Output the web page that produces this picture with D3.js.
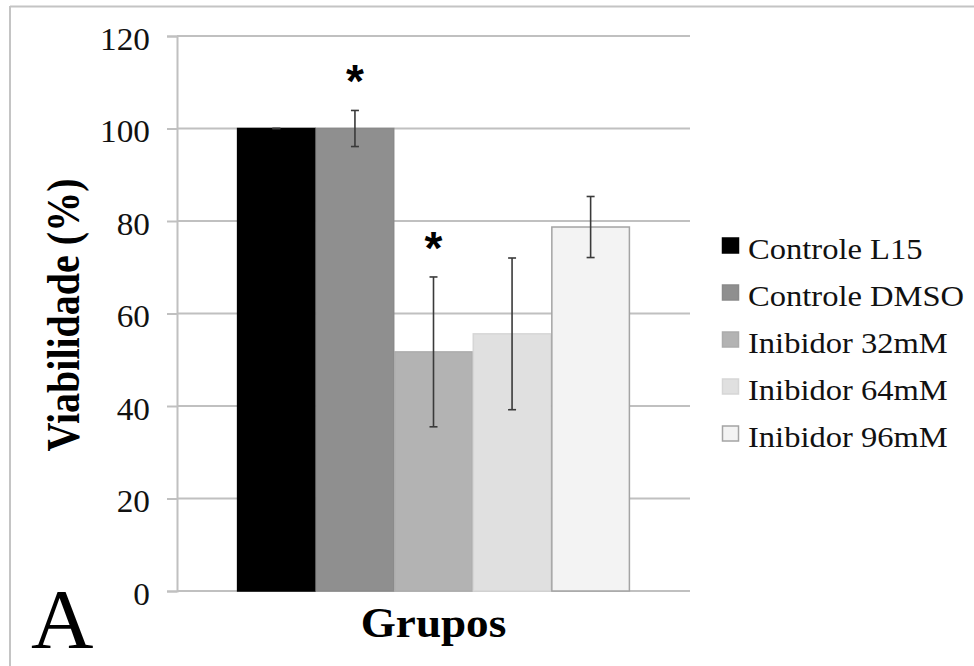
<!DOCTYPE html>
<html>
<head>
<meta charset="utf-8">
<script src="https://cdn.jsdelivr.net/npm/d3@7"></script>
<style>
  body { margin: 0; background: #fff; }
  svg { display: block; }
  text { font-family: "Liberation Serif", "Times New Roman", serif; }
</style>
</head>
<body>
<svg></svg>
<script>
// data
const groups = ['Controle L15', 'Controle DMSO', 'Inibidor 32mM', 'Inibidor 64mM', 'Inibidor 96mM'];
const values = [100, 100, 51.7, 55.6, 78.7];
const errors = [0, 3.9, 16.2, 16.4, 6.6];
const signif = [false, true, true, false, false];
const yTicks = [0, 20, 40, 60, 80, 100, 120];

const colors = ['#000000', '#8f8f8f', '#b3b3b3', '#e0e0e0', '#f3f3f3'];
const strokes = ['#000000', '#8a8a8a', '#acacac', '#d6d6d6', '#a4a4a4'];

const w = 974;
const h = 666;
const margin = { left: 177, right: 284, top: 36, bottom: 75 };

const svg = d3.select('svg')
    .attr('width', w)
    .attr('height', h);

// frame (only top and left edges show)
svg.append('line')
    .attr('x1', 10).attr('x2', w).attr('y1', 6.5).attr('y2', 6.5)
    .attr('stroke', '#c4c4c4').attr('stroke-width', 2);
svg.append('line')
    .attr('x1', 10).attr('x2', 10).attr('y1', 6).attr('y2', h)
    .attr('stroke', '#c4c4c4').attr('stroke-width', 2);

const yScale = d3.scaleLinear()
    .domain([0, 120])
    .range([h - margin.bottom, margin.top]);

const x0 = d3.scaleBand()
    .domain(['Grupos'])
    .range([margin.left, w - margin.right])
    .paddingOuter(0.153)
    .paddingInner(0);

const x1 = d3.scaleBand()
    .domain(groups)
    .range([0, x0.bandwidth()]);

// gridlines + axis
const yAxis = d3.axisLeft(yScale)
    .tickValues(yTicks)
    .tickSize(10)
    .tickPadding(0)
    .tickFormat(d3.format('d'));

const gy = svg.append('g')
    .attr('transform', 'translate(' + margin.left + ',0)')
    .call(yAxis);
gy.select('.domain').attr('stroke', '#c0c0c0').attr('stroke-width', 2);
gy.selectAll('.tick line').attr('stroke', '#c0c0c0').attr('stroke-width', 2);
gy.selectAll('.tick text')
    .attr('x', 0)
    .attr('fill', '#111')
    .attr('transform', 'translate(-27,0) scale(1.04,1)')
    .style('font-size', '32px')
    .style('font-family', '"Liberation Serif", "Times New Roman", serif')
    .attr('dy', '0.42em');

svg.append('g')
    .selectAll('line')
    .data(yTicks)
    .enter()
    .append('line')
    .attr('x1', margin.left)
    .attr('x2', w - margin.right)
    .attr('y1', d => yScale(d))
    .attr('y2', d => yScale(d))
    .attr('stroke', '#c0c0c0')
    .attr('stroke-width', 2);

// bars
const g = svg.append('g')
    .attr('transform', 'translate(' + x0('Grupos') + ',0)');

g.selectAll('rect')
    .data(groups)
    .enter()
    .append('rect')
    .attr('x', d => x1(d) + 0.5)
    .attr('width', x1.bandwidth() - 1)
    .attr('y', (d, i) => yScale(values[i]))
    .attr('height', (d, i) => yScale(0) - yScale(values[i]))
    .attr('fill', (d, i) => colors[i])
    .attr('stroke', (d, i) => strokes[i])
    .attr('stroke-width', 1.5);

// error bars
const eb = g.selectAll('.err')
    .data(groups)
    .enter()
    .append('g')
    .attr('class', 'err')
    .attr('stroke', '#3a3a3a')
    .attr('stroke-width', 1.6);

eb.append('line')
    .attr('x1', d => x1(d) + x1.bandwidth() / 2)
    .attr('x2', d => x1(d) + x1.bandwidth() / 2)
    .attr('y1', (d, i) => yScale(values[i] + errors[i]))
    .attr('y2', (d, i) => yScale(values[i] - errors[i]));
[1, -1].forEach(s => {
    eb.append('line')
        .attr('x1', d => x1(d) + x1.bandwidth() / 2 - 4)
        .attr('x2', d => x1(d) + x1.bandwidth() / 2 + 4)
        .attr('y1', (d, i) => yScale(values[i] + s * errors[i]))
        .attr('y2', (d, i) => yScale(values[i] + s * errors[i]));
});

// significance asterisks
g.selectAll('.star')
    .data(groups.filter((d, i) => signif[i]))
    .enter()
    .append('text')
    .attr('class', 'star')
    .attr('x', d => x1(d) + x1.bandwidth() / 2)
    .attr('y', d => {
        let i = groups.indexOf(d);
        return yScale(values[i] + errors[i]) - 13;
    })
    .attr('text-anchor', 'middle')
    .style('font-family', '"Liberation Sans", Arial, sans-serif')
    .style('font-weight', 'bold')
    .style('font-size', '46px')
    .text('*');

// axis titles
svg.append('text')
    .attr('transform', 'translate(79,315) rotate(-90) scale(1,1.15)')
    .attr('text-anchor', 'middle')
    .style('font-weight', 'bold')
    .style('font-size', '40px')
    .text('Viabilidade (%)');

svg.append('text')
    .attr('transform', 'translate(' + ((margin.left + w - margin.right) / 2) + ',637) scale(1.05,1)')
    .attr('text-anchor', 'middle')
    .style('font-weight', 'bold')
    .style('font-size', '43px')
    .text('Grupos');

// panel letter (squeezed vertically a touch so its box stays inside the page)
svg.append('text')
    .attr('transform', 'translate(31,648) scale(1.03,1)')
    .style('font-size', '84px')
    .text('A');

// legend
const legend = svg.append('g')
    .attr('transform', 'translate(722,259)');

const li = legend.selectAll('g')
    .data(groups)
    .enter()
    .append('g')
    .attr('transform', (d, i) => 'translate(0,' + (i * 47) + ')');

li.append('rect')
    .attr('x', 0.5)
    .attr('y', -21)
    .attr('width', 16)
    .attr('height', 15)
    .attr('fill', (d, i) => colors[i])
    .attr('stroke', (d, i) => strokes[i])
    .attr('stroke-width', 1.5);

li.append('text')
    .attr('transform', 'translate(26,0) scale(1.085,1)')
    .style('font-size', '30px')
    .attr('fill', '#111')
    .text(d => d);
</script>
</body>
</html>
